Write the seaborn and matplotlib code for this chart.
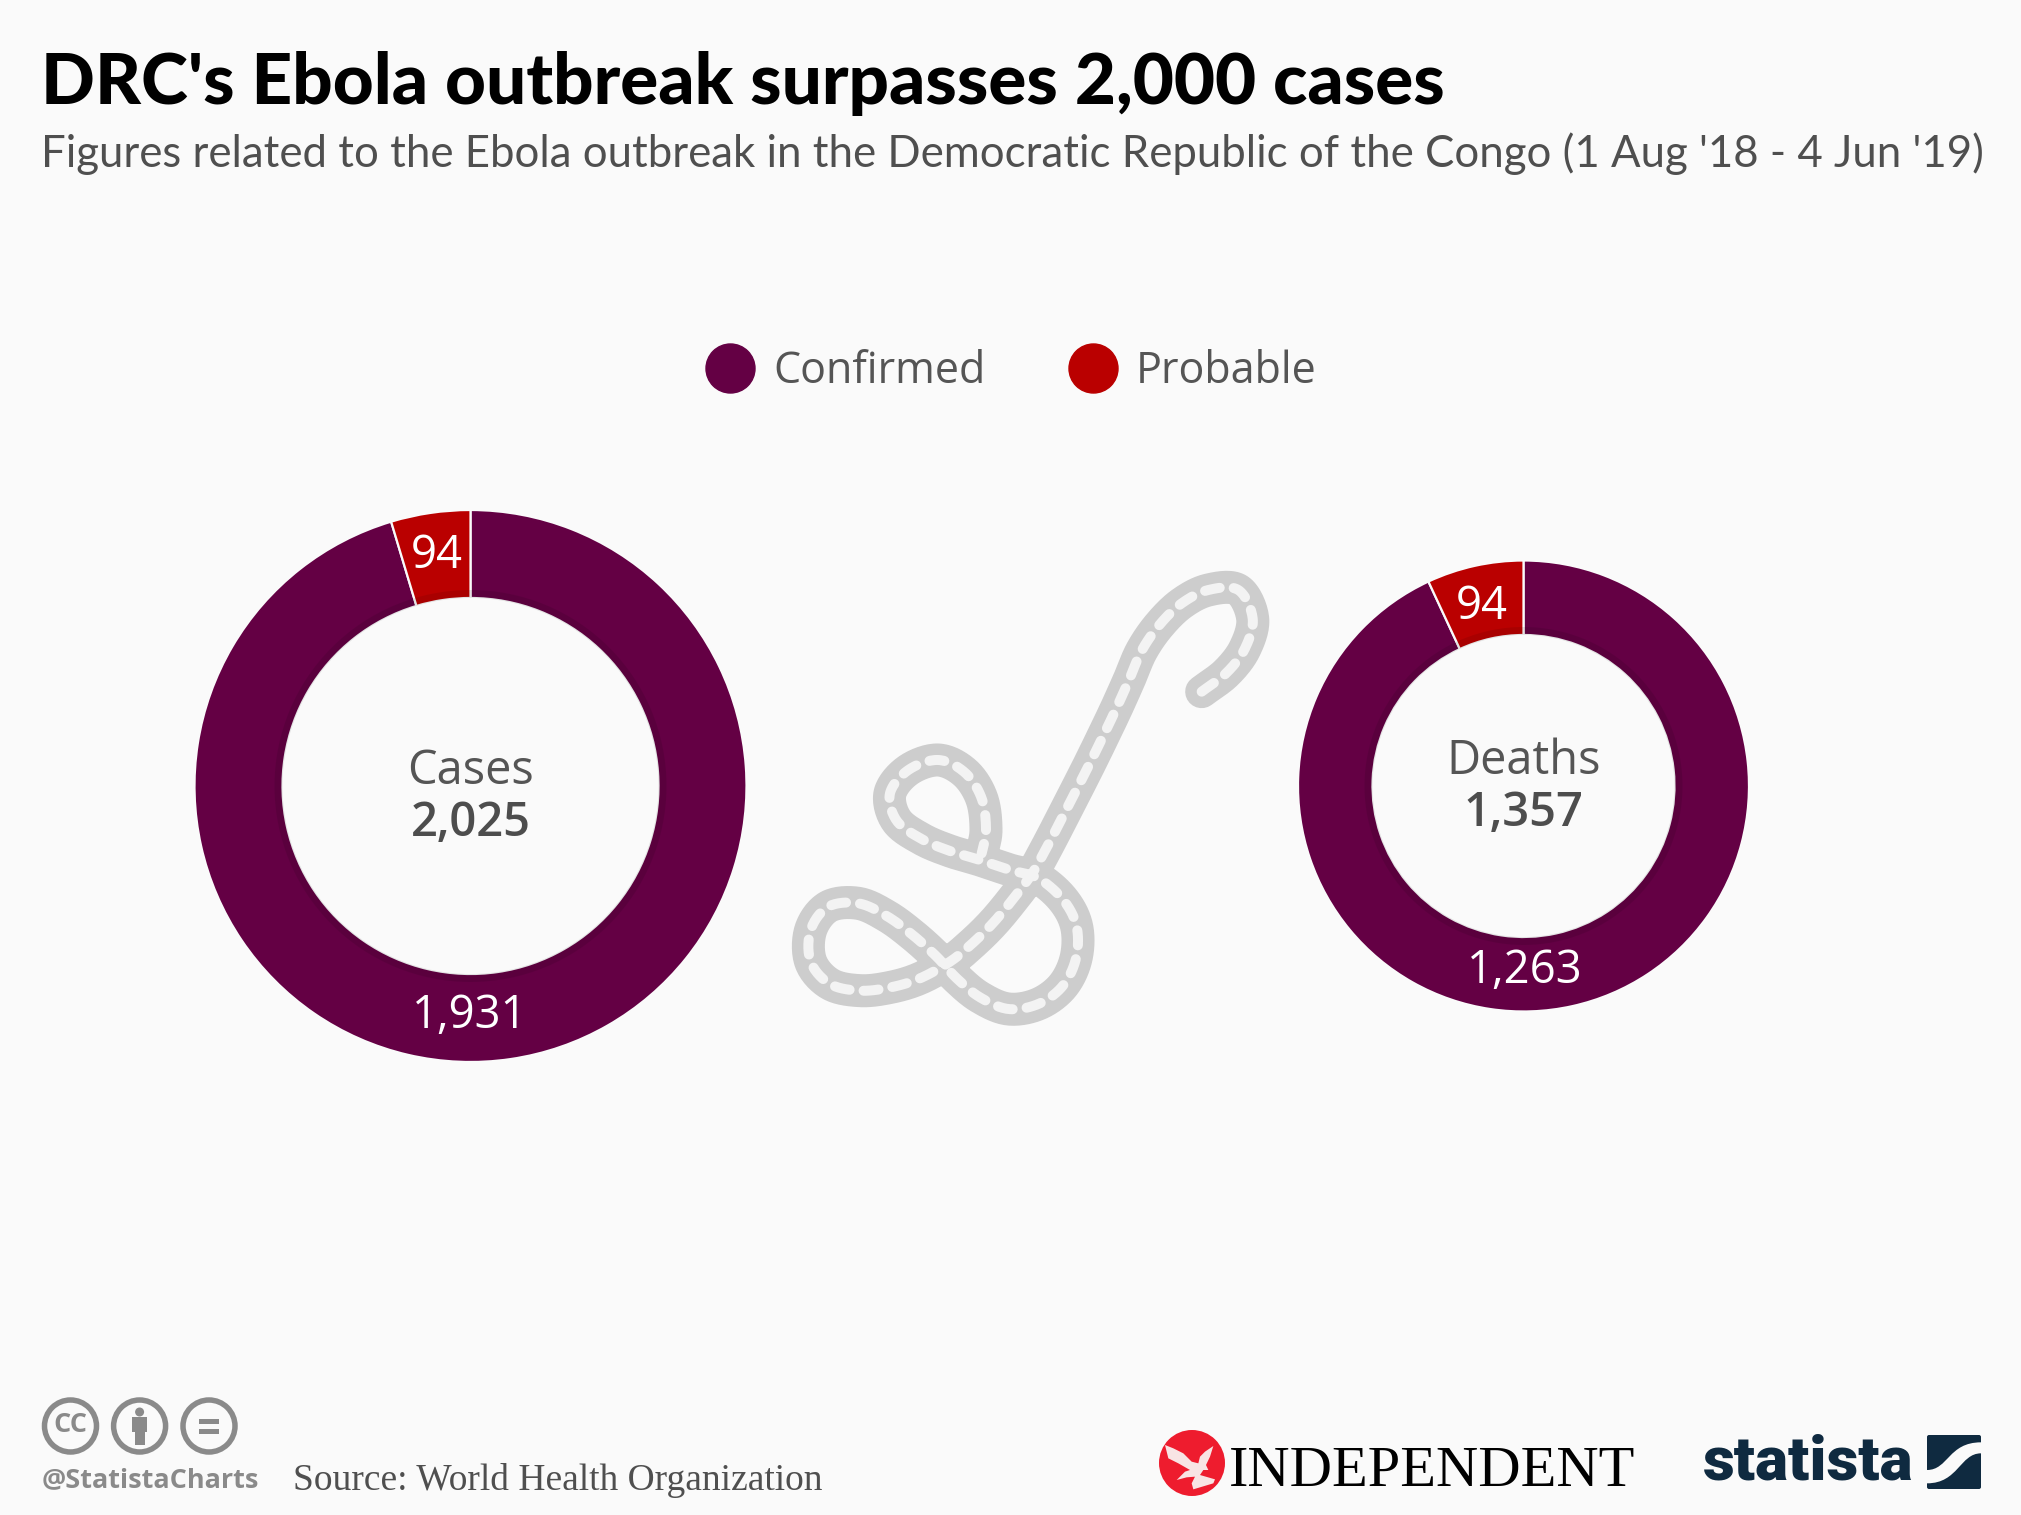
import numpy as np
import matplotlib
matplotlib.use("Agg")
import matplotlib.pyplot as plt
import seaborn as sns
from matplotlib.lines import Line2D
from matplotlib.patches import Circle, Rectangle, FancyBboxPatch, PathPatch, Polygon, Wedge
from matplotlib.path import Path

# ---- data ----
SERIES = ["Confirmed", "Probable"]
CASES_VALUES = [1931, 94]
DEATHS_VALUES = [1263, 94]
CASES_TOTAL = "2,025"
DEATHS_TOTAL = "1,357"
COLORS = ["#640044", "#ba0000"]
TITLE = "DRC's Ebola outbreak surpasses 2,000 cases"
SUBTITLE = "Figures related to the Ebola outbreak in the Democratic Republic of the Congo (1 Aug '18 - 4 Jun '19)"
SOURCE = "Source: World Health Organization"

BG = "#fafafa"
W, H = 2021, 1515
sns.set_theme(style="white", rc={"figure.facecolor": BG, "axes.facecolor": "none",
                                 "savefig.facecolor": BG, "lines.scale_dashes": False})
palette = sns.color_palette(COLORS)
fig = plt.figure(figsize=(W / 100, H / 100), dpi=100)
PX = 0.72

# overlay in pixel coordinates for text and illustration
ov = fig.add_axes([0, 0, 1, 1], zorder=5)
ov.set_xlim(0, W); ov.set_ylim(H, 0); ov.axis("off")


def donut(cx, cy, R, inner, values, name, total, name_y, total_y, lab_small, lab_big):
    ax = fig.add_axes([(cx - R) / W, 1 - (cy + R) / H, 2 * R / W, 2 * R / H])
    ax.pie(values, colors=palette, startangle=90, counterclock=False, radius=1,
           wedgeprops=dict(width=1 - inner / R, edgecolor=BG, linewidth=1.6))
    ax.set_xlim(-1, 1); ax.set_ylim(-1, 1); ax.set_aspect("equal"); ax.axis("off")
    # faint darker rim along the inside of the ring
    ov.add_patch(Wedge((cx, cy), inner + 8, 0, 360, width=8, fc="black", ec="none", alpha=0.09))
    kw = dict(ha="center", va="center", fontsize=47 * PX, family="Open Sans")
    ov.text(cx, name_y, name, color="#555555", **kw)
    ov.text(cx, total_y, total, weight="semibold", color="#4d4d4d", **kw)
    lab = dict(ha="center", va="center", fontsize=45.5 * PX, family="Open Sans", color="white", weight="medium")
    ov.text(*lab_small, f"{values[1]:,}", **lab)
    ov.text(*lab_big, f"{values[0]:,}", **lab)


donut(470.5, 786, 276, 188, CASES_VALUES, "Cases", CASES_TOTAL, 771, 823, (437, 556), (470, 1016))
donut(1523.5, 786, 225.5, 151, DEATHS_VALUES, "Deaths", DEATHS_TOTAL, 761, 813, (1482, 607), (1525, 971))

# header
ov.text(41, 84, TITLE, fontsize=71 * PX, family="Lato", weight="black", color="black", va="center", ha="left")
ov.text(41, 154, SUBTITLE, fontsize=43.8 * PX, family="Lato", color="#4f4f4f", va="center", ha="left")

# legend
handles = [Line2D([], [], ls="", marker="o", ms=49 * PX, color=c, label=s) for c, s in zip(palette, SERIES)]
ov.legend(handles=handles, loc="center", bbox_to_anchor=(1012.6, 372), bbox_transform=ov.transData, ncol=2,
          frameon=False, labelcolor="#555555", prop={"family": "Open Sans", "size": 43 * PX},
          columnspacing=2.0, handletextpad=0.5, handlelength=1.0)

# worm illustration (stitch centres, traced in a 3x crop)
WORM = np.array([(1265, 395), (1340, 338), (1395, 265), (1418, 175), (1375, 90), (1285, 90), (1205, 130), (1138, 195),
                 (1085, 272), (1048, 358), (1010, 443), (970, 527), (929, 611), (887, 694), (845, 776), (803, 857),
                 (760, 935), (703, 1012), (640, 1088), (575, 1152), (510, 1205), (420, 1255), (332, 1282), (240, 1292),
                 (150, 1272), (92, 1205), (92, 1110), (145, 1040), (235, 1030), (320, 1068), (398, 1125), (470, 1190),
                 (530, 1255), (600, 1312), (685, 1347), (775, 1332), (848, 1278), (888, 1195), (890, 1100), (850, 1020),
                 (775, 955), (690, 930), (600, 900), (510, 873), (425, 837), (350, 782), (330, 700), (385, 630),
                 (475, 600), (555, 638), (605, 715), (618, 810), (605, 880)], float) / 3 + (780, 560)


def smooth(p, n=16):
    q = np.vstack([2 * p[0] - p[1], p, 2 * p[-1] - p[-2]])
    t = np.linspace(0, 1, n, endpoint=False)[:, None]
    out = []
    for i in range(1, len(q) - 2):
        a, b, c, d = q[i - 1], q[i], q[i + 1], q[i + 2]
        out.append(0.5 * (2 * b + (c - a) * t + (2 * a - 5 * b + 4 * c - d) * t**2 + (3 * b - a - 3 * c + d) * t**3))
    return np.vstack(out + [p[-1:]])


wx, wy = smooth(WORM).T
ov.plot(wx, wy, color="#cdcdcd", lw=33 * PX, solid_capstyle="round", solid_joinstyle="round")
ov.plot(wx, wy, color="#f3f3f3", lw=10 * PX, dash_capstyle="round", ls=(0, (15 * PX, 14 * PX)))

# licence icons
GREY = "#8a8a8a"
for x in (70.5, 139.6, 209):
    ov.add_patch(Circle((x, 1426), 26, fc="none", ec=GREY, lw=5.5 * PX))
ov.text(70.5, 1425, "CC", ha="center", va="center", family="Open Sans", weight="bold", fontsize=27 * PX, color=GREY)
ov.add_patch(Circle((139.6, 1412), 4.5, fc=GREY, ec="none"))
ov.add_patch(Rectangle((132, 1417), 15, 15, fc=GREY, ec="none"))
ov.add_patch(Rectangle((135, 1430), 10, 15, fc=GREY, ec="none"))
ov.add_patch(Rectangle((199, 1419), 20, 5, fc=GREY, ec="none"))
ov.add_patch(Rectangle((199, 1429), 20, 5, fc=GREY, ec="none"))
ov.text(42, 1480, "@StatistaCharts", ha="left", va="center", family="Open Sans", weight="bold",
        fontsize=27 * PX, color=GREY)
ov.text(293, 1480, SOURCE, ha="left", va="center", family="Liberation Serif", fontsize=37.5 * PX, color="#4f4f4f")

# publisher marks
ov.add_patch(Circle((1192, 1463), 33, fc="#ee1c2e", ec="none"))
EAGLE = np.array([(45, 75), (70, 85), (100, 100), (125, 125), (145, 130), (150, 110), (165, 95), (190, 78), (180, 110),
                  (168, 135), (175, 150), (160, 150), (150, 165), (195, 178), (190, 190), (130, 208), (125, 190),
                  (135, 170), (110, 172), (80, 180), (105, 155), (120, 150), (85, 130), (55, 115)], float) / 3 + (1150, 1420)
ov.add_patch(Polygon(EAGLE, fc="#f8e4e4", ec="none"))
ov.text(1229, 1472, "INDEPENDENT", ha="left", va="center", family="Liberation Serif", fontsize=58.5 * PX, color="black")
NAVY = "#0f2a40"
ov.text(1703, 1463, "statista", ha="left", va="center", family="Roboto", weight="black", fontsize=62 * PX, color=NAVY)
ov.add_patch(FancyBboxPatch((1927, 1435), 54, 54, boxstyle="round,pad=0,rounding_size=2", fc=NAVY, ec="none"))
BAND = [(36, 135), (100, 135), (100, 52), (198, 52), (198, 85), (135, 85), (130, 175), (36, 175), (36, 135)]
BAND_CODES = [Path.MOVETO, Path.CURVE4, Path.CURVE4, Path.CURVE4, Path.LINETO, Path.CURVE4, Path.CURVE4, Path.CURVE4,
              Path.CLOSEPOLY]
ov.add_patch(PathPatch(Path(np.array(BAND, float) / 3 + (1915, 1425), BAND_CODES), fc=BG, ec="none"))

fig.savefig("out.png", dpi=100)
